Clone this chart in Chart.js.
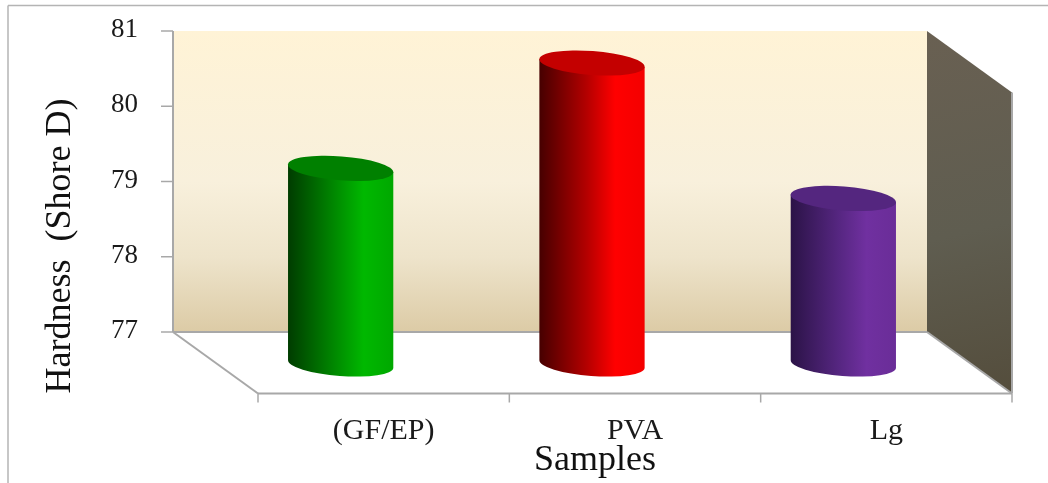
<!DOCTYPE html>
<html>
<head>
<meta charset="utf-8">
<style>
  html, body { margin: 0; padding: 0; background: #fff; }
  canvas { display: block; filter: blur(0.4px); }
</style>
<script src="https://cdn.jsdelivr.net/npm/chart.js@4"></script>
</head>
<body>
<canvas id="hardnessChart" width="1048" height="483"></canvas>
<script>
const categories = ['(GF/EP)', 'PVA', 'Lg'];
const hardness = [79.6, 81, 79.2];
const yTicks = [77, 78, 79, 80, 81];

const yTitle = 'Hardness  (Shore D)';
const xTitle = 'Samples';

// dark edge, middle, bright band, right edge, top cap
const barShades = [
    ['#003c00', '#008a00', '#00b800', '#00a800', '#008000'],
    ['#460000', '#b40000', '#ff0000', '#f40000', '#c40000'],
    ['#2b1347', '#552680', '#7030a0', '#6a2d98', '#54267f']
];

const DEPTH_X = 85;    // floor depth, back wall to front edge
const DEPTH_Y = 61.5;
const BAR_SHIFT_X = 43; // bars stand half way into the floor
const BAR_SHIFT_Y = 32;
const CAP_RY = 12;
const CAP_TILT = 0.076;

function line(ctx, x1, y1, x2, y2) {
    ctx.beginPath();
    ctx.moveTo(x1, y1);
    ctx.lineTo(x2, y2);
    ctx.stroke();
}

function poly(ctx, pts) {
    ctx.beginPath();
    pts.forEach((p, i) => i ? ctx.lineTo(p[0], p[1]) : ctx.moveTo(p[0], p[1]));
    ctx.closePath();
}

const box3d = {
    id: 'box3d',
    beforeDatasetsDraw(chart) {
        const ctx = chart.ctx;
        const a = chart.chartArea;
        const y = chart.scales.y;
        const backL = a.left - DEPTH_X;
        const backR = a.right - DEPTH_X;
        const frontY = a.bottom + DEPTH_Y;

        ctx.save();

        // frame of the picture
        ctx.strokeStyle = '#b4b4b4';
        ctx.lineWidth = 1.5;
        line(ctx, 8, 483, 8, 5.5);
        line(ctx, 8, 5.5, 1048, 5.5);

        // back wall
        const wall = ctx.createLinearGradient(0, a.top, 0, a.bottom);
        wall.addColorStop(0, '#fff3d6');
        wall.addColorStop(0.5, '#f8f0dc');
        wall.addColorStop(0.75, '#eee4cb');
        wall.addColorStop(1, '#dccba6');
        ctx.fillStyle = wall;
        ctx.fillRect(backL, a.top, backR - backL, a.bottom - a.top);

        // right wall
        const side = ctx.createLinearGradient(backR, a.top, a.right, frontY);
        side.addColorStop(0, '#696052');
        side.addColorStop(0.55, '#5f5d50');
        side.addColorStop(1, '#544d3c');
        ctx.fillStyle = side;
        poly(ctx, [[backR, a.top], [a.right, a.top + DEPTH_Y], [a.right, frontY], [backR, a.bottom]]);
        ctx.fill();

        // axis edges
        ctx.strokeStyle = '#a8a8a8';
        ctx.lineWidth = 2;
        line(ctx, backL, a.top, backL, a.bottom);
        line(ctx, backL, a.bottom, backR, a.bottom);
        line(ctx, backL, a.bottom, a.left, frontY);
        line(ctx, backR, a.bottom, a.right, frontY);
        line(ctx, a.left, frontY, a.right, frontY);
        line(ctx, a.right, a.top + DEPTH_Y, a.right, frontY);

        // tick marks
        ctx.lineWidth = 1.5;
        yTicks.forEach(v => {
            const py = y.getPixelForValue(v);
            line(ctx, backL - 12, py, backL, py);
        });
        const step = (a.right - a.left) / categories.length;
        for (let i = 0; i <= categories.length; i++) {
            line(ctx, a.left + i * step, frontY, a.left + i * step, frontY + 9);
        }
        ctx.restore();
    },
    afterDatasetsDraw(chart) {
        const ctx = chart.ctx;
        chart.getDatasetMeta(0).data.forEach((bar, i) => {
            const shade = barShades[i];
            const cx = bar.x - BAR_SHIFT_X;
            const topY = bar.y + BAR_SHIFT_Y;
            const baseY = bar.base + BAR_SHIFT_Y;
            const rx = bar.width / 2;
            const dx = rx * Math.cos(CAP_TILT);
            const dy = rx * Math.sin(CAP_TILT);

            const g = ctx.createLinearGradient(cx - dx, 0, cx + dx, 0);
            g.addColorStop(0, shade[0]);
            g.addColorStop(0.45, shade[1]);
            g.addColorStop(0.72, shade[2]);
            g.addColorStop(1, shade[3]);

            ctx.save();
            ctx.fillStyle = g;
            ctx.beginPath();
            ctx.moveTo(cx - dx, topY - dy);
            ctx.lineTo(cx - dx, baseY - dy);
            ctx.ellipse(cx, baseY, rx, CAP_RY, CAP_TILT, Math.PI, 0, true);
            ctx.lineTo(cx + dx, topY + dy);
            ctx.closePath();
            ctx.fill();

            ctx.fillStyle = shade[4];
            ctx.beginPath();
            ctx.ellipse(cx, topY, rx, CAP_RY, CAP_TILT, 0, Math.PI * 2);
            ctx.fill();
            ctx.restore();
        });
    },
    afterDraw(chart) {
        const ctx = chart.ctx;
        ctx.save();
        ctx.fillStyle = '#111';
        ctx.textAlign = 'center';
        ctx.textBaseline = 'middle';
        ctx.font = '36px "Liberation Serif"';
        ctx.fillText(xTitle, 595, 461);
        ctx.translate(61, 246);
        ctx.rotate(-Math.PI / 2);
        ctx.fillText(yTitle, 0, 0);
        ctx.restore();
    }
};

new Chart(document.getElementById('hardnessChart'), {
    type: 'bar',
    data: {
        labels: categories,
        datasets: [{
            data: hardness,
            base: yTicks[0],
            backgroundColor: 'transparent',
            barPercentage: 0.42,
            categoryPercentage: 1
        }]
    },
    plugins: [box3d],
    options: {
        responsive: false,
        animation: false,
        devicePixelRatio: 1,
        layout: { padding: { left: 0, right: 36, top: 31, bottom: 0 } },
        plugins: { legend: { display: false }, tooltip: { enabled: false } },
        scales: {
            x: {
                grid: { display: false },
                border: { display: false },
                afterFit: s => { s.height = 151; s.paddingTop = s.paddingBottom = s.paddingLeft = s.paddingRight = 0; },
                ticks: {
                    padding: 73,
                    maxRotation: 0,
                    color: '#1a1a1a',
                    font: { family: 'Liberation Serif', size: 30 }
                }
            },
            y: {
                min: yTicks[0],
                max: yTicks[yTicks.length - 1],
                grid: { display: false, drawTicks: false },
                border: { display: false },
                afterFit: s => { s.width = 258; s.paddingTop = s.paddingBottom = s.paddingLeft = s.paddingRight = 0; },
                ticks: {
                    stepSize: 1,
                    padding: 120,
                    labelOffset: -1,
                    color: '#1a1a1a',
                    font: { family: 'Liberation Serif', size: 27 }
                }
            }
        }
    }
});
</script>
</body>
</html>
